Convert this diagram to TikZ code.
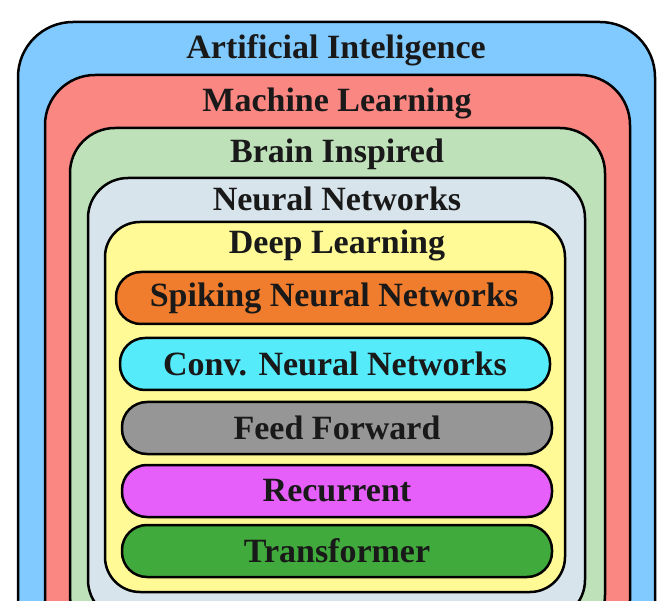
\documentclass[tikz,border=0pt]{standalone}
\usepackage{fontspec}
\setmainfont{Liberation Serif}
\begin{document}
\begin{tikzpicture}[x=1pt,y=-1pt,
  box/.style={draw=black,line width=2.5pt,rounded corners=#1},
  title/.style={font=\fontsize{34}{38}\selectfont\bfseries,text=black!90,inner sep=0pt},
  pill/.style={draw=black,line width=2.5pt,rounded corners=25pt,minimum width=430pt,minimum height=52pt,inner sep=0pt,font=\fontsize{34}{38}\selectfont\bfseries,text=black!90}]
\useasboundingbox (0,0) rectangle (672,601);
\clip (0,0) rectangle (672,601);
\definecolor{cai}{RGB}{128,202,255}
\definecolor{cml}{RGB}{250,135,130}
\definecolor{cbi}{RGB}{190,225,185}
\definecolor{cnn}{RGB}{215,228,235}
\definecolor{cdl}{RGB}{255,250,150}
\fill[box=55pt,fill=cai] (18,22) rectangle (655,660);
\fill[box=50pt,fill=cml] (45,75) rectangle (630,650);
\fill[box=45pt,fill=cbi] (70,128) rectangle (605,640);
\fill[box=40pt,fill=cnn] (88,178) rectangle (585,620);
\fill[box=35pt,fill=cdl] (105,222) rectangle (565,592);
\node[title] (ai) at (336,50) {Artificial Inteligence};
\node[title] (ml) at (337,103) {Machine Learning};
\node[title] (bi) at (337,154) {Brain Inspired};
\node[title] (nn) at (337,199) {Neural Networks};
\node[title] (dl) at (337,245) {Deep Learning};
\node[pill,fill={rgb,255:red,240;green,125;blue,45},minimum width=436pt] (snn) at (334,298) {Spiking Neural Networks};
\node[pill,fill={rgb,255:red,85;green,235;blue,250}] (cnn) at (335,364) {Conv. Neural Networks};
\node[pill,fill={rgb,255:red,150;green,150;blue,150}] (ff) at (337,428) {Feed Forward};
\node[pill,fill={rgb,255:red,230;green,95;blue,250}] (rec) at (337,491) {Recurrent};
\node[pill,fill={rgb,255:red,65;green,170;blue,60}] (tr) at (337,551) {Transformer};
\end{tikzpicture}
\end{document}
